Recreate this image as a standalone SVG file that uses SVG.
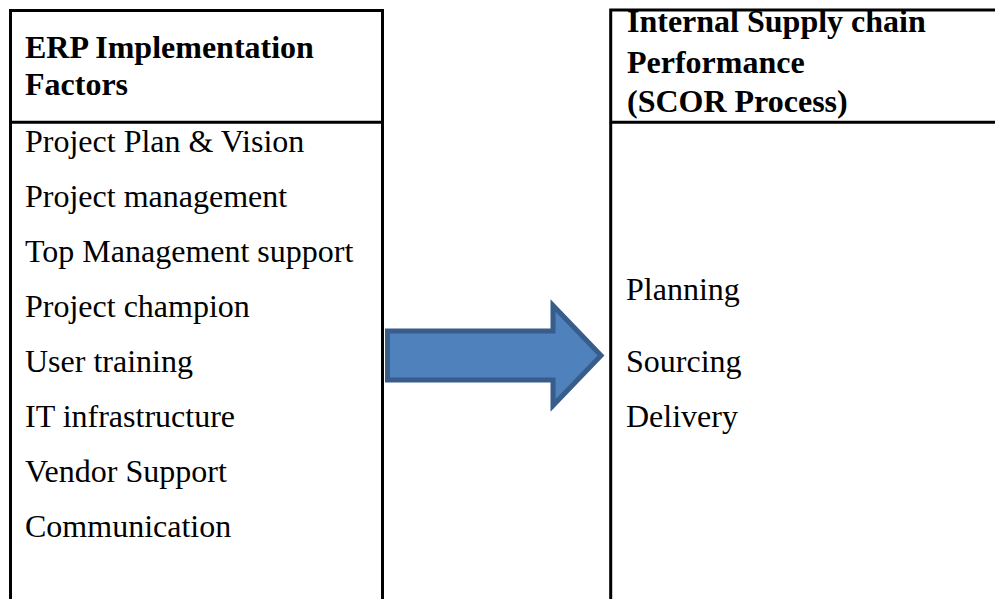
<svg xmlns="http://www.w3.org/2000/svg" width="995" height="599" viewBox="0 0 995 599">
  <style>
    .frame { fill: none; stroke: #000; stroke-width: 3; }
    .head { font-family: "Liberation Serif", "Times New Roman", serif; font-size: 32px; font-weight: bold; fill: #000; }
    .item { font-family: "Liberation Serif", "Times New Roman", serif; font-size: 32px; fill: #000; }
    .block-arrow { fill: #4F81BD; stroke: #385D8A; stroke-width: 5; stroke-linejoin: miter; }
  </style>
  <rect width="995" height="599" fill="#fff"/>

  <!-- Left table: implementation factors -->
  <g id="erp-factors">
    <path class="frame" d="M10.5 599 V10.5 H382.5 V599"/>
    <line class="frame" x1="10.5" y1="122.3" x2="382.5" y2="122.3"/>
    <text class="head" x="25" y="58">ERP Implementation</text>
    <text class="head" x="25" y="95">Factors</text>
    <text class="item" x="25" y="152">Project Plan &amp; Vision</text>
    <text class="item" x="25" y="207">Project management</text>
    <text class="item" x="25" y="262">Top Management support</text>
    <text class="item" x="25" y="317">Project champion</text>
    <text class="item" x="25" y="372">User training</text>
    <text class="item" x="25" y="427">IT infrastructure</text>
    <text class="item" x="25" y="482">Vendor Support</text>
    <text class="item" x="25" y="537">Communication</text>
  </g>

  <!-- Right table: supply chain performance -->
  <g id="scor-performance">
    <path class="frame" d="M610.7 599 V10 H995"/>
    <line class="frame" x1="610.7" y1="122.2" x2="995" y2="122.2"/>
    <text class="head" x="627" y="32">Internal Supply chain</text>
    <text class="head" x="627" y="73">Performance</text>
    <text class="head" x="627" y="112">(SCOR Process)</text>
    <text class="item" x="626" y="300">Planning</text>
    <text class="item" x="626" y="372">Sourcing</text>
    <text class="item" x="626" y="427">Delivery</text>
  </g>

  <!-- Block arrow linking the two tables -->
  <g id="connectors">
    <path class="block-arrow" d="M387.5 331 H553 V305.5 L601 355.5 L553 405.5 V380 H387.5 Z"/>
  </g>
</svg>
